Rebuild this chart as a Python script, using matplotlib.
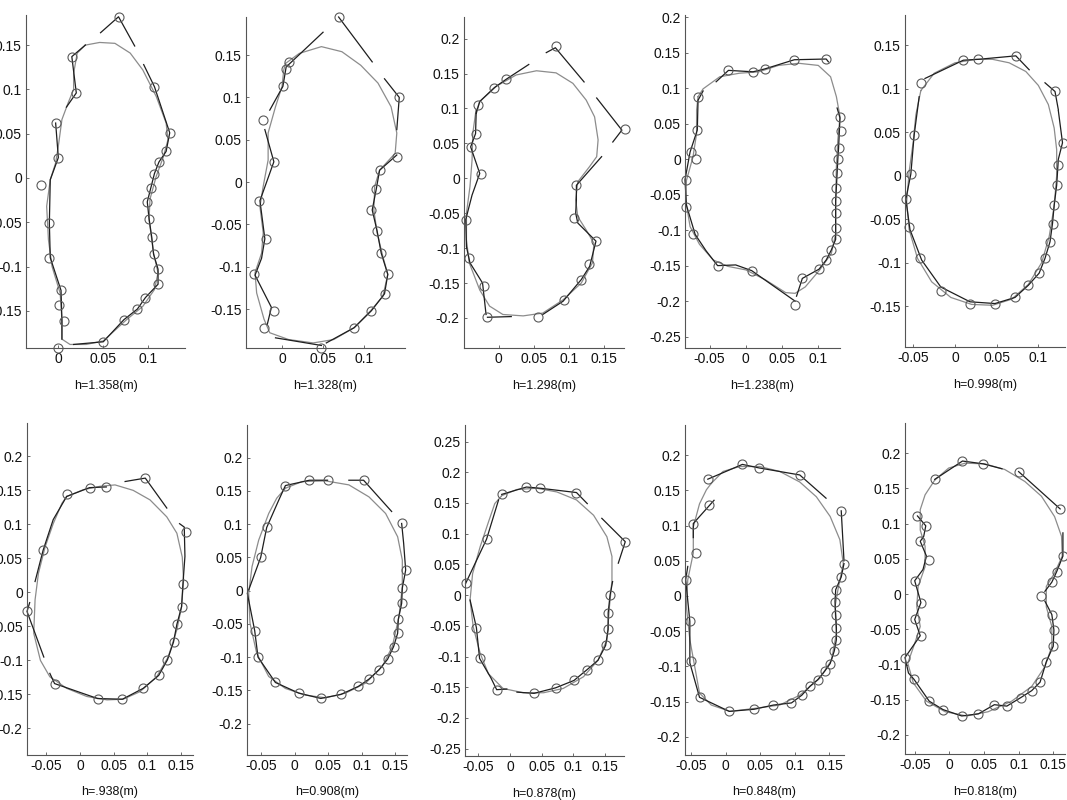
import matplotlib
matplotlib.use("Agg")
import matplotlib.pyplot as plt
from matplotlib.ticker import FuncFormatter

plt.rcParams['font.family'] = ['Liberation Sans', 'DejaVu Sans']

# ---- data (metres) ----
labels = ['h=1.358(m)', 'h=1.328(m)', 'h=1.298(m)', 'h=1.238(m)', 'h=0.998(m)',
          'h=.938(m)', 'h=0.908(m)', 'h=0.878(m)', 'h=0.848(m)', 'h=0.818(m)']

# panel 1
p1_circles = [(0.067, 0.182), (0.015, 0.137), (0.020, 0.096), (-0.003, 0.062), (0.0, 0.023),
              (-0.019, -0.008), (-0.010, -0.051), (-0.010, -0.090), (0.003, -0.127), (0.001, -0.143),
              (0.006, -0.162), (0.0, -0.192), (0.050, -0.185), (0.073, -0.160), (0.088, -0.148),
              (0.097, -0.135), (0.111, -0.120), (0.111, -0.103), (0.106, -0.086), (0.104, -0.067),
              (0.101, -0.046), (0.099, -0.027), (0.103, -0.011), (0.107, 0.005), (0.112, 0.018),
              (0.120, 0.030), (0.124, 0.051), (0.107, 0.103)]
p1_lines = [
    [(0.047, 0.164), (0.067, 0.182), (0.085, 0.149)],
    [(0.030, 0.150), (0.015, 0.137), (0.020, 0.096), (0.009, 0.080)],
    [(-0.003, 0.062), (0.0, 0.023), (-0.009, -0.002), (-0.010, -0.051), (-0.009, -0.090),
     (0.003, -0.127), (0.004, -0.162), (0.004, -0.182)],
    [(0.017, -0.188), (0.050, -0.185), (0.073, -0.160), (0.088, -0.148), (0.097, -0.135),
     (0.111, -0.120), (0.111, -0.103), (0.106, -0.086), (0.104, -0.067), (0.101, -0.046),
     (0.099, -0.027), (0.103, -0.011), (0.107, 0.005), (0.112, 0.018), (0.120, 0.030),
     (0.124, 0.051), (0.107, 0.103), (0.095, 0.128)],
]
p1_outline = [(0.030, 0.150), (0.046, 0.153), (0.063, 0.152), (0.080, 0.141), (0.094, 0.122),
              (0.109, 0.092), (0.120, 0.062), (0.122, 0.043), (0.117, 0.024), (0.109, 0.002),
              (0.102, -0.024), (0.101, -0.047), (0.106, -0.085), (0.111, -0.107), (0.107, -0.126),
              (0.094, -0.145), (0.076, -0.160), (0.050, -0.184), (0.031, -0.188), (0.013, -0.188),
              (0.004, -0.182), (0.004, -0.160), (0.002, -0.130), (-0.007, -0.100), (-0.011, -0.070),
              (-0.013, -0.032), (-0.009, -0.002), (-0.003, 0.017), (0.0, 0.036), (0.004, 0.066),
              (0.011, 0.085), (0.017, 0.100), (0.017, 0.118), (0.021, 0.141)]

# panel 2
p2_circles = [(0.069, 0.195), (0.005, 0.134), (0.009, 0.142), (0.001, 0.113), (-0.023, 0.073),
              (-0.010, 0.024), (-0.028, -0.022), (-0.019, -0.067), (-0.034, -0.108), (-0.010, -0.152),
              (-0.022, -0.172), (0.048, -0.196), (0.088, -0.172), (0.109, -0.152), (0.125, -0.132),
              (0.129, -0.109), (0.121, -0.084), (0.116, -0.058), (0.109, -0.033), (0.115, -0.008),
              (0.119, 0.014), (0.140, 0.030), (0.143, 0.100)]
p2_lines = [
    [(0.050, 0.177), (0.005, 0.136), (0.001, 0.113), (-0.015, 0.085)],
    [(0.069, 0.195), (0.110, 0.142)],
    [(0.125, 0.122), (0.143, 0.100), (0.140, 0.062)],
    [(-0.021, 0.062), (-0.010, 0.024), (-0.027, -0.022), (-0.021, -0.067), (-0.025, -0.090),
     (-0.033, -0.110), (-0.013, -0.148), (-0.018, -0.168)],
    [(-0.008, -0.184), (0.048, -0.193)],
    [(0.054, -0.190), (0.088, -0.172), (0.109, -0.152), (0.125, -0.132), (0.129, -0.109),
     (0.121, -0.084), (0.116, -0.058), (0.110, -0.033), (0.115, -0.008), (0.119, 0.014),
     (0.140, 0.032)],
]
p2_outline = [(0.004, 0.140), (0.021, 0.152), (0.048, 0.160), (0.073, 0.154), (0.096, 0.138),
              (0.117, 0.117), (0.133, 0.089), (0.140, 0.058), (0.138, 0.034), (0.119, 0.014),
              (0.113, -0.005), (0.112, -0.033), (0.116, -0.060), (0.123, -0.088), (0.129, -0.109),
              (0.123, -0.135), (0.108, -0.152), (0.088, -0.172), (0.063, -0.186), (0.038, -0.190),
              (0.008, -0.186), (-0.015, -0.178), (-0.022, -0.162), (-0.031, -0.131), (-0.033, -0.107),
              (-0.025, -0.084), (-0.023, -0.060), (-0.027, -0.029), (-0.023, -0.005), (-0.017, 0.026),
              (-0.017, 0.058), (-0.008, 0.089), (0.0, 0.113), (0.002, 0.132)]

# panel 3
p3_circles = [(0.082, 0.190), (0.011, 0.142), (-0.006, 0.130), (-0.030, 0.105), (-0.033, 0.064),
              (-0.040, 0.045), (-0.025, 0.006), (-0.047, -0.059), (-0.042, -0.114), (-0.021, -0.154),
              (-0.016, -0.199), (0.056, -0.199), (0.094, -0.174), (0.117, -0.145), (0.129, -0.123),
              (0.139, -0.090), (0.108, -0.057), (0.110, -0.010), (0.180, 0.070)]
p3_lines = [
    [(0.043, 0.163), (0.011, 0.142), (-0.006, 0.130), (-0.027, 0.110), (-0.032, 0.093)],
    [(0.068, 0.180), (0.081, 0.187), (0.122, 0.138)],
    [(0.140, 0.115), (0.176, 0.069), (0.163, 0.052)],
    [(0.147, 0.031), (0.111, -0.010), (0.111, -0.031), (0.110, -0.050), (0.113, -0.064),
     (0.139, -0.090), (0.130, -0.126), (0.118, -0.145), (0.092, -0.176), (0.063, -0.195)],
    [(-0.016, -0.199), (0.018, -0.198)],
    [(-0.032, 0.098), (-0.033, 0.064), (-0.040, 0.045), (-0.027, 0.007), (-0.038, -0.024),
     (-0.047, -0.059), (-0.046, -0.098), (-0.041, -0.121), (-0.023, -0.150), (-0.018, -0.195)],
]
p3_outline = [(-0.027, 0.110), (-0.003, 0.132), (0.025, 0.148), (0.054, 0.154), (0.082, 0.151),
              (0.106, 0.136), (0.125, 0.112), (0.137, 0.088), (0.142, 0.055), (0.140, 0.031),
              (0.130, 0.017), (0.113, -0.005), (0.110, -0.031), (0.113, -0.055), (0.125, -0.074),
              (0.136, -0.093), (0.134, -0.121), (0.118, -0.150), (0.092, -0.174), (0.063, -0.193),
              (0.035, -0.197), (0.006, -0.195), (-0.013, -0.183), (-0.027, -0.160), (-0.042, -0.121),
              (-0.046, -0.088), (-0.046, -0.050), (-0.041, -0.012), (-0.038, 0.026), (-0.037, 0.064),
              (-0.033, 0.093)]

# panel 4
p4_circles = [(0.111, 0.141), (0.067, 0.140), (0.026, 0.127), (0.010, 0.123), (-0.024, 0.126),
              (-0.066, 0.088), (-0.067, 0.041), (-0.076, 0.010), (-0.069, 0.0), (-0.082, -0.030),
              (-0.082, -0.067), (-0.073, -0.105), (-0.039, -0.151), (0.008, -0.158), (0.078, -0.168),
              (0.068, -0.205), (0.101, -0.155), (0.111, -0.142), (0.118, -0.128), (0.124, -0.113),
              (0.124, -0.097), (0.124, -0.076), (0.124, -0.059), (0.125, -0.040), (0.126, -0.020),
              (0.127, 0.0), (0.128, 0.015), (0.132, 0.039), (0.130, 0.060)]
p4_lines = [
    [(-0.041, 0.109), (-0.024, 0.125), (0.010, 0.123), (0.026, 0.127), (0.067, 0.140),
     (0.111, 0.141), (0.114, 0.137)],
    [(-0.059, 0.096), (-0.066, 0.083), (-0.067, 0.041), (-0.077, 0.010), (-0.084, -0.029),
     (-0.082, -0.065), (-0.070, -0.106), (-0.055, -0.129), (-0.039, -0.150), (-0.014, -0.149),
     (0.008, -0.157), (0.068, -0.200)],
    [(0.070, -0.193), (0.078, -0.168), (0.101, -0.155), (0.111, -0.142), (0.118, -0.128),
     (0.124, -0.113), (0.124, -0.097), (0.124, -0.076), (0.124, -0.059), (0.125, -0.040),
     (0.126, -0.020), (0.127, 0.0), (0.128, 0.015), (0.130, 0.058), (0.126, 0.072)],
]
p4_outline = [(-0.066, 0.088), (-0.059, 0.099), (-0.036, 0.116), (-0.009, 0.121), (0.018, 0.123),
              (0.045, 0.132), (0.073, 0.135), (0.100, 0.132), (0.117, 0.116), (0.125, 0.088),
              (0.130, 0.060), (0.127, 0.027), (0.125, -0.011), (0.124, -0.058), (0.124, -0.105),
              (0.118, -0.133), (0.102, -0.156), (0.082, -0.180), (0.068, -0.189), (0.055, -0.188),
              (0.027, -0.170), (0.0, -0.156), (-0.025, -0.151), (-0.045, -0.142), (-0.064, -0.120),
              (-0.077, -0.095), (-0.083, -0.058), (-0.082, -0.030), (-0.073, 0.003), (-0.068, 0.036),
              (-0.068, 0.069)]

# panel 5
p5_circles = [(0.073, 0.138), (0.028, 0.134), (0.010, 0.133), (-0.041, 0.107), (-0.049, 0.047),
              (-0.053, 0.002), (-0.059, -0.027), (-0.055, -0.059), (-0.042, -0.095), (-0.017, -0.132),
              (0.018, -0.148), (0.048, -0.147), (0.072, -0.140), (0.088, -0.126), (0.101, -0.112),
              (0.108, -0.095), (0.114, -0.076), (0.117, -0.055), (0.119, -0.034), (0.122, -0.011),
              (0.123, 0.012), (0.129, 0.038), (0.120, 0.097)]
p5_lines = [
    [(-0.036, 0.112), (0.010, 0.133), (0.028, 0.134), (0.073, 0.138), (0.089, 0.122)],
    [(-0.043, 0.091), (-0.049, 0.047), (-0.053, 0.002), (-0.059, -0.027), (-0.054, -0.062),
     (-0.040, -0.097), (-0.017, -0.128), (0.018, -0.145), (0.048, -0.147), (0.072, -0.140),
     (0.088, -0.126), (0.101, -0.112), (0.108, -0.095), (0.114, -0.076), (0.117, -0.055),
     (0.119, -0.034), (0.122, -0.011), (0.124, 0.019), (0.129, 0.038), (0.124, 0.075)],
    [(0.108, 0.107), (0.120, 0.097), (0.124, 0.076)],
]
p5_outline = [(-0.041, 0.098), (-0.025, 0.118), (0.0, 0.130), (0.025, 0.134), (0.045, 0.134),
              (0.065, 0.130), (0.085, 0.120), (0.100, 0.104), (0.112, 0.082), (0.119, 0.055),
              (0.122, 0.030), (0.122, 0.0), (0.119, -0.035), (0.113, -0.070), (0.104, -0.100),
              (0.088, -0.125), (0.068, -0.142), (0.045, -0.149), (0.020, -0.148), (-0.005, -0.140),
              (-0.028, -0.122), (-0.045, -0.095), (-0.055, -0.062), (-0.058, -0.030), (-0.055, 0.005),
              (-0.050, 0.040), (-0.047, 0.070)]

# panel 6
p6_circles = [(0.097, 0.168), (0.039, 0.155), (0.014, 0.154), (-0.020, 0.144), (-0.055, 0.062),
              (-0.079, -0.028), (-0.038, -0.134), (0.026, -0.156), (0.063, -0.157), (0.094, -0.141),
              (0.117, -0.122), (0.130, -0.099), (0.139, -0.073), (0.144, -0.047), (0.151, -0.021),
              (0.153, 0.012), (0.157, 0.089)]
p6_lines = [
    [(0.067, 0.163), (0.097, 0.168), (0.129, 0.124)],
    [(0.039, 0.155), (0.014, 0.154), (-0.020, 0.141), (-0.040, 0.107), (-0.055, 0.062),
     (-0.067, 0.016)],
    [(-0.075, -0.015), (-0.079, -0.028), (-0.054, -0.095)],
    [(-0.045, -0.119), (-0.038, -0.134), (0.026, -0.156), (0.063, -0.157), (0.094, -0.141),
     (0.117, -0.122), (0.130, -0.099), (0.139, -0.073), (0.144, -0.047), (0.151, -0.021),
     (0.153, 0.012), (0.156, 0.053), (0.155, 0.096), (0.148, 0.101)],
]
p6_outline = [(-0.020, 0.141), (0.005, 0.151), (0.030, 0.156), (0.052, 0.158), (0.079, 0.150),
              (0.104, 0.136), (0.129, 0.111), (0.144, 0.087), (0.152, 0.052), (0.154, 0.018),
              (0.151, -0.021), (0.144, -0.055), (0.131, -0.095), (0.114, -0.124), (0.089, -0.146),
              (0.064, -0.157), (0.040, -0.158), (0.010, -0.153), (-0.020, -0.141), (-0.045, -0.124),
              (-0.059, -0.100), (-0.069, -0.060), (-0.067, -0.011), (-0.062, 0.028), (-0.052, 0.067),
              (-0.040, 0.101), (-0.027, 0.131)]

# panel 7
p7_circles = [(0.103, 0.166), (0.049, 0.166), (0.022, 0.166), (-0.014, 0.158), (-0.042, 0.095),
              (-0.051, 0.050), (-0.060, -0.060), (-0.055, -0.100), (-0.029, -0.138), (0.006, -0.154),
              (0.039, -0.162), (0.069, -0.156), (0.095, -0.144), (0.111, -0.133), (0.126, -0.119),
              (0.139, -0.103), (0.148, -0.084), (0.154, -0.064), (0.155, -0.043), (0.160, -0.019),
              (0.161, 0.004), (0.166, 0.031), (0.160, 0.101)]
p7_lines = [
    [(0.081, 0.166), (0.103, 0.166), (0.145, 0.119)],
    [(0.049, 0.166), (0.022, 0.166), (-0.014, 0.158), (-0.024, 0.136), (-0.042, 0.095),
     (-0.051, 0.050), (-0.069, 0.001)],
    [(-0.071, -0.004), (-0.060, -0.060), (-0.055, -0.100), (-0.029, -0.138), (0.006, -0.154),
     (0.039, -0.162), (0.069, -0.156), (0.095, -0.144), (0.111, -0.133), (0.126, -0.119),
     (0.139, -0.103), (0.148, -0.084), (0.154, -0.064), (0.155, -0.043), (0.160, -0.019),
     (0.161, 0.004), (0.166, 0.031), (0.163, 0.071), (0.160, 0.101)],
]
p7_outline = [(-0.014, 0.154), (0.011, 0.164), (0.046, 0.165), (0.081, 0.159), (0.111, 0.141),
              (0.136, 0.116), (0.154, 0.081), (0.161, 0.046), (0.161, 0.006), (0.156, -0.039),
              (0.146, -0.084), (0.131, -0.114), (0.106, -0.139), (0.076, -0.154), (0.046, -0.161),
              (0.016, -0.157), (-0.014, -0.147), (-0.039, -0.129), (-0.057, -0.094), (-0.067, -0.049),
              (-0.069, -0.004), (-0.064, 0.036), (-0.054, 0.076), (-0.039, 0.116), (-0.027, 0.139)]

# panel 8
p8_circles = [(0.105, 0.167), (0.048, 0.174), (0.026, 0.176), (-0.013, 0.164), (-0.037, 0.091),
              (-0.070, 0.019), (-0.053, -0.053), (-0.048, -0.103), (-0.021, -0.154), (0.038, -0.160),
              (0.072, -0.151), (0.101, -0.139), (0.121, -0.122), (0.139, -0.106), (0.151, -0.082),
              (0.155, -0.056), (0.155, -0.029), (0.158, 0.0), (0.182, 0.087)]
p8_lines = [
    [(-0.013, 0.164), (0.026, 0.176), (0.048, 0.174), (0.105, 0.167), (0.122, 0.149)],
    [(0.145, 0.125), (0.182, 0.087), (0.171, 0.052)],
    [(-0.018, 0.155), (-0.037, 0.091), (-0.070, 0.019)],
    [(-0.063, -0.008), (-0.053, -0.053), (-0.048, -0.103), (-0.030, -0.135), (-0.021, -0.154),
     (-0.005, -0.153)],
    [(0.011, -0.158), (0.038, -0.160), (0.072, -0.151), (0.101, -0.139), (0.121, -0.122),
     (0.139, -0.106), (0.151, -0.082), (0.155, -0.056), (0.155, -0.029), (0.158, 0.0),
     (0.162, 0.022)],
]
p8_outline = [(-0.013, 0.162), (0.011, 0.172), (0.042, 0.174), (0.074, 0.168), (0.105, 0.155),
              (0.132, 0.130), (0.153, 0.095), (0.161, 0.063), (0.161, 0.024), (0.157, -0.019),
              (0.153, -0.073), (0.139, -0.106), (0.116, -0.133), (0.084, -0.152), (0.053, -0.159),
              (0.021, -0.159), (-0.011, -0.152), (-0.034, -0.128), (-0.047, -0.095), (-0.058, -0.052),
              (-0.063, -0.008), (-0.059, 0.035), (-0.047, 0.079), (-0.033, 0.122), (-0.024, 0.149)]

# panel 9
p9_circles = [(0.024, 0.187), (0.048, 0.182), (0.107, 0.172), (-0.026, 0.166), (-0.024, 0.130),
              (-0.047, 0.103), (-0.043, 0.061), (-0.058, 0.023), (-0.052, -0.036), (-0.051, -0.093),
              (-0.038, -0.144), (0.005, -0.164), (0.041, -0.161), (0.069, -0.155), (0.095, -0.152),
              (0.110, -0.141), (0.122, -0.128), (0.133, -0.119), (0.143, -0.107), (0.151, -0.096),
              (0.157, -0.078), (0.160, -0.062), (0.160, -0.045), (0.159, -0.027), (0.158, -0.008),
              (0.159, 0.009), (0.167, 0.027), (0.171, 0.046), (0.167, 0.121)]
p9_lines = [
    [(-0.026, 0.166), (0.024, 0.187), (0.048, 0.182), (0.107, 0.172), (0.145, 0.139)],
    [(0.167, 0.121), (0.171, 0.050)],
    [(-0.017, 0.136), (-0.047, 0.103), (-0.047, 0.083)],
    [(-0.055, 0.042), (-0.058, 0.023), (-0.052, -0.036), (-0.052, -0.095), (-0.038, -0.144),
     (0.005, -0.164), (0.041, -0.161), (0.069, -0.155), (0.095, -0.152), (0.110, -0.141),
     (0.122, -0.128), (0.133, -0.119), (0.143, -0.107), (0.151, -0.096), (0.157, -0.078),
     (0.160, -0.062), (0.160, -0.045), (0.159, -0.027), (0.158, -0.008), (0.159, 0.009),
     (0.167, 0.027), (0.171, 0.046)],
]
p9_outline = [(-0.021, 0.160), (-0.004, 0.177), (0.020, 0.184), (0.049, 0.184), (0.078, 0.177),
              (0.107, 0.162), (0.131, 0.141), (0.151, 0.113), (0.165, 0.080), (0.170, 0.046),
              (0.163, 0.013), (0.158, -0.015), (0.160, -0.053), (0.153, -0.091), (0.136, -0.117),
              (0.107, -0.141), (0.078, -0.155), (0.040, -0.160), (0.006, -0.164), (-0.021, -0.155),
              (-0.038, -0.138), (-0.045, -0.100), (-0.052, -0.062), (-0.057, -0.015), (-0.055, 0.023),
              (-0.047, 0.061), (-0.047, 0.098), (-0.038, 0.131), (-0.028, 0.151)]

# panel 10
p10_circles = [(0.019, 0.189), (0.049, 0.185), (0.100, 0.174), (-0.021, 0.164), (0.160, 0.121),
               (-0.046, 0.111), (-0.034, 0.097), (-0.042, 0.075), (-0.030, 0.049), (-0.050, 0.019),
               (-0.041, -0.012), (-0.050, -0.036), (-0.041, -0.059), (-0.064, -0.090), (-0.051, -0.121),
               (-0.029, -0.152), (-0.009, -0.164), (0.018, -0.173), (0.042, -0.170), (0.065, -0.157),
               (0.083, -0.159), (0.103, -0.147), (0.119, -0.137), (0.131, -0.125), (0.140, -0.096),
               (0.150, -0.074), (0.151, -0.051), (0.148, -0.029), (0.133, -0.003), (0.148, 0.017),
               (0.155, 0.032), (0.164, 0.054)]
p10_lines = [
    [(-0.021, 0.163), (0.019, 0.189), (0.049, 0.185), (0.076, 0.178)],
    [(0.100, 0.174), (0.160, 0.121)],
    [(-0.046, 0.111), (-0.034, 0.097), (-0.037, 0.082), (-0.042, 0.075), (-0.033, 0.054),
     (-0.038, 0.035), (-0.050, 0.019), (-0.041, -0.012), (-0.050, -0.036), (-0.042, -0.059),
     (-0.064, -0.090), (-0.059, -0.112), (-0.051, -0.121), (-0.029, -0.152), (-0.009, -0.164),
     (0.018, -0.173), (0.042, -0.170), (0.065, -0.157), (0.083, -0.159), (0.103, -0.147),
     (0.119, -0.137), (0.131, -0.125), (0.140, -0.096), (0.150, -0.074), (0.151, -0.051),
     (0.148, -0.029), (0.138, -0.010)],
    [(0.138, 0.004), (0.148, 0.017), (0.155, 0.032), (0.164, 0.054), (0.164, 0.087)],
]
p10_outline = [(-0.021, 0.162), (-0.001, 0.179), (0.023, 0.186), (0.051, 0.185), (0.080, 0.177),
               (0.109, 0.160), (0.133, 0.139), (0.152, 0.110), (0.162, 0.082), (0.163, 0.054),
               (0.152, 0.030), (0.140, 0.011), (0.140, -0.018), (0.148, -0.046), (0.148, -0.074),
               (0.138, -0.103), (0.119, -0.131), (0.090, -0.152), (0.056, -0.167), (0.025, -0.173),
               (-0.006, -0.167), (-0.033, -0.152), (-0.052, -0.126), (-0.060, -0.098), (-0.050, -0.070),
               (-0.042, -0.046), (-0.047, -0.018), (-0.045, 0.011), (-0.035, 0.039), (-0.035, 0.068),
               (-0.042, 0.091), (-0.042, 0.120), (-0.035, 0.141)]

circles = [p1_circles, p2_circles, p3_circles, p4_circles, p5_circles,
           p6_circles, p7_circles, p8_circles, p9_circles, p10_circles]
lines = [p1_lines, p2_lines, p3_lines, p4_lines, p5_lines,
         p6_lines, p7_lines, p8_lines, p9_lines, p10_lines]
outlines = [p1_outline, p2_outline, p3_outline, p4_outline, p5_outline,
            p6_outline, p7_outline, p8_outline, p9_outline, p10_outline]

# axis limits and ticks per panel
xlims = [(-0.036, 0.141), (-0.044, 0.150), (-0.0495, 0.179), (-0.084, 0.130), (-0.060, 0.132),
         (-0.079, 0.168), (-0.0715, 0.168), (-0.071, 0.180), (-0.059, 0.171), (-0.064, 0.167)]
ylims = [(-0.192, 0.184), (-0.196, 0.195), (-0.243, 0.231), (-0.266, 0.203), (-0.197, 0.185),
         (-0.239, 0.249), (-0.247, 0.249), (-0.262, 0.277), (-0.226, 0.243), (-0.227, 0.243)]
xticks = [[0, 0.05, 0.1], [0, 0.05, 0.1], [0, 0.05, 0.1, 0.15], [-0.05, 0, 0.05, 0.1],
          [-0.05, 0, 0.05, 0.1]] + [[-0.05, 0, 0.05, 0.1, 0.15]] * 5
yt15 = [-0.15, -0.1, -0.05, 0, 0.05, 0.1, 0.15]
yt20 = [-0.2, -0.15, -0.1, -0.05, 0, 0.05, 0.1, 0.15, 0.2]
yt25 = [-0.25] + yt20 + [0.25]
yticks = [yt15, yt15, yt20, yt25[:-1], yt15, yt20, yt20, yt25, yt20, yt20]

# axes boxes in pixels: left, right, top, bottom
boxes = [(26, 185, 15, 348), (246, 405, 17, 348), (464, 624, 17, 348), (685, 840, 15, 348),
         (905, 1065, 15, 347), (27, 193, 423, 755), (247, 407, 425, 755), (465, 624, 425, 756),
         (685, 844, 425, 755), (905, 1065, 423, 754)]

W, H = 1067, 800
fig = plt.figure(figsize=(W / 100, H / 100), dpi=100)
fmt = FuncFormatter(lambda v, p: '%g' % round(v, 3))

for i in range(10):
    l, r, t, b = boxes[i]
    ax = fig.add_axes([l / W, 1 - b / H, (r - l) / W, (b - t) / H])

    ox = [p[0] for p in outlines[i]] + [outlines[i][0][0]]
    oy = [p[1] for p in outlines[i]] + [outlines[i][0][1]]
    ax.plot(ox, oy, color='#8c8c8c', lw=0.9, clip_on=False)

    for seg in lines[i]:
        ax.plot([p[0] for p in seg], [p[1] for p in seg], color='#1e1e1e', lw=0.9, clip_on=False)

    ax.plot([p[0] for p in circles[i]], [p[1] for p in circles[i]], 'o', ms=6.5,
            mfc='none', mec='#5a5a5a', mew=0.8, clip_on=False)

    ax.set_xlim(*xlims[i])
    ax.set_ylim(*ylims[i])
    ax.set_xticks(xticks[i])
    ax.set_yticks(yticks[i])
    ax.xaxis.set_major_formatter(fmt)
    ax.yaxis.set_major_formatter(fmt)
    ax.tick_params(direction='in', length=2.5, width=0.6, labelsize=10, pad=3,
                   colors='#555555', labelcolor='#111111')
    for s in ['top', 'right']:
        ax.spines[s].set_visible(False)
    for s in ['left', 'bottom']:
        ax.spines[s].set_color('#555555')
        ax.spines[s].set_linewidth(0.8)
    ax.patch.set_alpha(0)

    ax.annotate(labels[i], xy=(0.5, 0), xycoords='axes fraction', xytext=(0, -27),
                textcoords='offset points', ha='center', va='center', fontsize=9, color='#111111')

fig.savefig('out.png', dpi=100)
